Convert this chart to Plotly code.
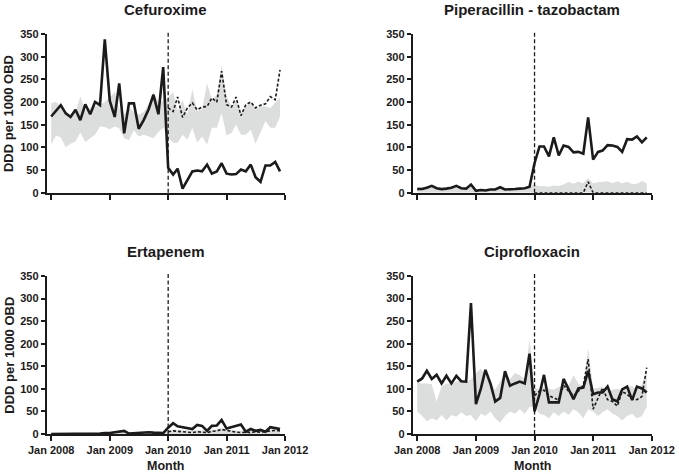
import pandas as pd
import plotly.graph_objects as go

months = pd.date_range("2008-01-01", "2011-12-01", freq="MS")
post_months = months[24:]
intervention = "2010-01-01"

titles = ["Cefuroxime", "Piperacillin - tazobactam", "Ertapenem", "Ciprofloxacin"]
y_title = "DDD per 1000 OBD"
x_title = "Month"

# Cefuroxime
cef_obs = [168, 180, 193, 175, 167, 183, 160, 195, 173, 200, 193, 338,
           203, 167, 241, 131, 197, 197, 141, 160, 184, 216, 173, 277,
           55, 40, 53, 9, 28, 47, 49, 47, 62, 42, 47, 65,
           42, 40, 41, 51, 47, 62, 34, 24, 60, 60, 68, 47]
cef_pred = [187, 179, 211, 166, 187, 198, 183, 189, 190, 209, 200, 268,
            194, 189, 211, 170, 194, 200, 187, 193, 196, 212, 205, 271]
cef_hi = [198, 200, 190, 180, 170, 178, 212, 182, 188, 192, 192, 200,
          210, 222, 185, 172, 188, 178, 172, 178, 196, 222, 200, 202,
          210, 222, 180, 205, 172, 228, 180, 184, 242, 205, 216, 282,
          212, 190, 205, 176, 190, 198, 183, 190, 190, 187, 198, 210]
cef_lo = [107, 126, 122, 100, 108, 113, 132, 112, 120, 128, 146, 145,
          140, 146, 142, 120, 116, 138, 124, 128, 124, 120, 134, 143,
          122, 110, 110, 128, 117, 143, 110, 124, 106, 143, 143, 175,
          126, 132, 150, 128, 128, 139, 108, 135, 158, 143, 143, 168]

# Piperacillin - tazobactam
pip_obs = [8, 8, 11, 15, 10, 8, 9, 11, 15, 10, 9, 18,
           4, 6, 5, 7, 7, 12, 7, 7, 8, 9, 10, 13,
           65, 102, 102, 80, 122, 82, 104, 101, 89, 90, 86, 166,
           73, 90, 93, 105, 104, 101, 90, 118, 117, 124, 111, 122]
pip_pred = [0, 0, 0, 0, 0, 0, 0, 0, 0, 0, 0, 24,
            0, 0, 0, 0, 0, 0, 0, 0, 0, 0, 0, 0]
pip_hi = [12, 12, 14, 16, 12, 10, 12, 13, 16, 12, 12, 14,
          8, 8, 8, 9, 9, 12, 9, 9, 9, 10, 11, 14,
          18, 14, 15, 13, 16, 15, 18, 24, 20, 24, 21, 32,
          21, 23, 24, 25, 21, 25, 21, 24, 19, 20, 26, 21]
pip_lo = [0] * 48

# Ertapenem
ert_obs = [0, 0, 0, 0, 0, 0, 0, 0, 0, 0, 1, 2,
           2, 4, 5, 7, 1, 2, 2, 3, 4, 3, 2, 2,
           14, 24, 17, 15, 13, 11, 20, 18, 7, 18, 19, 31,
           12, 15, 17, 21, 5, 11, 7, 9, 5, 15, 13, 11]
ert_pred = [5, 7, 6, 5, 4, 3, 5, 4, 3, 6, 7, 10,
            8, 5, 4, 3, 4, 3, 5, 4, 5, 6, 8, 7]
ert_hi = [2, 2, 2, 2, 2, 2, 2, 2, 2, 2, 3, 3,
          4, 5, 5, 5, 4, 4, 4, 4, 4, 4, 4, 4,
          9, 10, 9, 8, 8, 7, 9, 8, 7, 9, 10, 13,
          11, 9, 8, 7, 8, 7, 9, 8, 9, 10, 11, 10]
ert_lo = [0] * 48

# Ciprofloxacin
cip_obs = [116, 123, 140, 122, 131, 112, 129, 112, 129, 117, 116, 290,
           66, 101, 142, 112, 72, 80, 139, 107, 112, 116, 112, 178,
           50, 88, 131, 70, 70, 70, 122, 100, 77, 101, 103, 140,
           88, 92, 92, 105, 77, 72, 99, 105, 75, 105, 101, 92]
cip_pred = [85, 95, 97, 85, 80, 75, 108, 95, 85, 95, 108, 166,
            55, 80, 102, 76, 72, 62, 94, 88, 78, 76, 83, 147]
cip_hi = [114, 112, 112, 110, 72, 105, 112, 112, 116, 118, 116, 120,
          135, 145, 128, 118, 98, 118, 135, 122, 135, 130, 122, 210,
          100, 100, 105, 100, 98, 104, 106, 108, 130, 112, 105, 190,
          100, 102, 104, 96, 98, 100, 96, 104, 106, 98, 110, 140]
cip_lo = [50, 40, 28, 35, 30, 42, 30, 42, 38, 48, 40, 42,
          28, 45, 40, 50, 35, 25, 40, 50, 45, 55, 45, 60,
          60, 45, 42, 35, 48, 40, 50, 42, 55, 48, 35, 55,
          50, 40, 48, 55, 45, 40, 30, 40, 45, 35, 40, 60]

panels = [
    (cef_obs, cef_pred, cef_lo, cef_hi),
    (pip_obs, pip_pred, pip_lo, pip_hi),
    (ert_obs, ert_pred, ert_lo, ert_hi),
    (cip_obs, cip_pred, cip_lo, cip_hi),
]

FONT = "Arial, 'Liberation Sans', sans-serif"
INK = "#1c1a1a"
BAND = "#dcdddd"

W, H = 679, 474
x_domains = [[46.7 / W, 285.0 / W], [412.7 / W, 651.7 / W]]
y_domains = [[1 - 192.7 / H, 1 - 34.0 / H], [1 - 434.0 / H, 1 - 276.0 / H]]

fig = go.Figure()
layout = dict(
    width=W, height=H, template="none",
    margin=dict(l=0, r=0, t=0, b=0),
    paper_bgcolor="white", plot_bgcolor="white",
    showlegend=False, font=dict(family=FONT, color=INK),
)

annotations = []
shapes = []
for i, (obs, pred, lo, hi) in enumerate(panels):
    n = i + 1
    xa = "x" if n == 1 else f"x{n}"
    ya = "y" if n == 1 else f"y{n}"
    col = i % 2
    row = i // 2
    fig.add_trace(go.Scatter(x=months, y=lo, mode="lines", line=dict(width=0),
                             hoverinfo="skip", xaxis=xa, yaxis=ya))
    fig.add_trace(go.Scatter(x=months, y=hi, mode="lines", line=dict(width=0),
                             fill="tonexty", fillcolor=BAND, hoverinfo="skip",
                             xaxis=xa, yaxis=ya))
    fig.add_trace(go.Scatter(x=post_months, y=pred, mode="lines",
                             line=dict(color=INK, width=1.6, dash="3px,2px"),
                             xaxis=xa, yaxis=ya))
    fig.add_trace(go.Scatter(x=months, y=obs, mode="lines",
                             line=dict(color=INK, width=2.6),
                             xaxis=xa, yaxis=ya))
    bottom = row == 1
    layout["xaxis" if n == 1 else f"xaxis{n}"] = dict(
        domain=x_domains[col], anchor=ya, type="date",
        range=["2007-12-04", "2012-01-01"],
        tick0="2008-01-01", dtick="M12", tickformat="%b %Y",
        showticklabels=bottom, ticks="outside", ticklen=5, tickwidth=2,
        tickcolor=INK, showline=True, linewidth=2, linecolor=INK,
        showgrid=False, zeroline=False, automargin=False,
        tickfont=dict(family=FONT, size=11, color=INK, weight="bold"),
    )
    layout["yaxis" if n == 1 else f"yaxis{n}"] = dict(
        domain=y_domains[row], anchor=xa, range=[0, 350], dtick=50,
        ticks="outside", ticklen=4, tickwidth=2, tickcolor=INK,
        showline=True, linewidth=2, linecolor=INK,
        showgrid=False, zeroline=False, automargin=False,
        tickfont=dict(family=FONT, size=11, color=INK, weight="bold"),
    )
    shapes.append(dict(type="line", xref=xa, yref=f"{ya} domain",
                       x0=intervention, x1=intervention, y0=0, y1=1.021,
                       line=dict(color=INK, width=1.3, dash="4px,2.5px")))
    xc = (x_domains[col][0] + x_domains[col][1]) / 2
    ty = [1 - 10.0 / H, 1 - 251.0 / H][row]
    annotations.append(dict(text=titles[i], xref="paper", yref="paper",
                            x=xc, y=ty, xanchor="center", yanchor="middle",
                            showarrow=False,
                            font=dict(family=FONT, size=15, color=INK, weight="bold")))
    if col == 0:
        annotations.append(dict(text=y_title, xref="paper", yref="paper",
                                x=8.7 / W, y=(y_domains[row][0] + y_domains[row][1]) / 2,
                                xanchor="center", yanchor="middle", textangle=-90,
                                showarrow=False,
                                font=dict(family=FONT, size=13, color=INK, weight="bold")))
    if bottom:
        annotations.append(dict(text=x_title, xref="paper", yref="paper",
                                x=xc, y=1 - 466.0 / H, xanchor="center", yanchor="middle",
                                showarrow=False,
                                font=dict(family=FONT, size=12.5, color=INK, weight="bold")))

layout["annotations"] = annotations
layout["shapes"] = shapes
fig.update_layout(**layout)
fig.write_html("out.html", config={"displayModeBar": False},
               post_script="document.body.style.margin='0';document.body.style.overflow='hidden';")
